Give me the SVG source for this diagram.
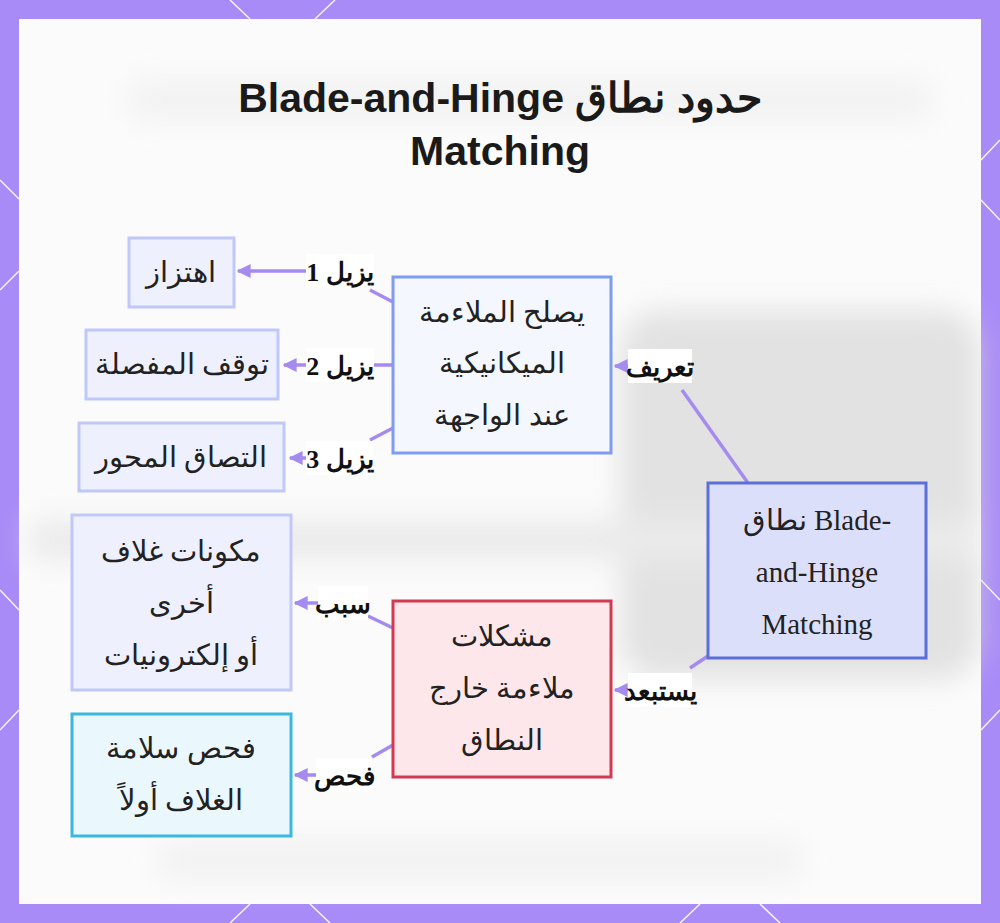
<svg xmlns="http://www.w3.org/2000/svg" width="1000" height="923" viewBox="0 0 1000 923">
<style>
.n{font-family:"Liberation Serif","DejaVu Serif",serif;font-size:29px;fill:#222;text-anchor:middle}
.e{font-family:"Liberation Serif","DejaVu Serif",serif;font-size:26px;font-weight:bold;fill:#111;text-anchor:middle}
.c{fill:none;stroke:#a58af0;stroke-width:3.5}
.lb{fill:#fff}
</style>
<defs>
<marker id="a" viewBox="0 0 10 10" refX="9" refY="5" markerWidth="4" markerHeight="4" orient="auto"><path d="M0,0L10,5L0,10z" fill="#a58af0"/></marker>
<filter id="b"><feGaussianBlur stdDeviation="14"/></filter>
</defs>
<rect width="1000" height="923" fill="#a98bf7"/>
<g stroke="#fff" stroke-width="1.5" opacity="0.9">
<path d="M230,0L250,19M335,0L315,19M0,180L19,199M0,290L19,271M981,160L1000,140M981,200L1000,220M0,590L19,610M0,730L19,710M981,580L1000,600M981,730L1000,710M230,923L250,904M330,923L310,904M680,923L700,904M780,923L760,904"/>
</g>
<rect x="19" y="19" width="962" height="885" fill="#fbfbfc"/>
<g filter="url(#b)" opacity="0.7">
<rect x="130" y="80" width="800" height="40" fill="#eee"/>
<rect x="620" y="310" width="360" height="370" rx="40" fill="#d8d8d8"/>
<rect x="30" y="520" width="950" height="40" fill="#e4e4e4"/>
<rect x="160" y="840" width="640" height="40" fill="#eee"/>
</g>
<text x="500" y="112" direction="rtl" font-family="'Liberation Sans',Arial,sans-serif" font-size="41" font-weight="bold" text-anchor="middle" fill="#1a1a1a">حدود نطاق Blade-and-Hinge</text>
<text x="500" y="165" font-family="'Liberation Sans',Arial,sans-serif" font-size="41" font-weight="bold" text-anchor="middle" fill="#1a1a1a">Matching</text>
<g id="connectors">
<path class="c" d="M393,302L370,290M306,271L238,271" marker-end="url(#a)"/>
<path class="c" d="M393,365L284,365" marker-end="url(#a)"/>
<path class="c" d="M393,428L370,440M306,458L290,458" marker-end="url(#a)"/>
<path class="c" d="M748,483L682,390M628,366L615,366" marker-end="url(#a)"/>
<path class="c" d="M708,656L690,668M628,690L615,690" marker-end="url(#a)"/>
<path class="c" d="M393,628L368,616M318,603L295,603" marker-end="url(#a)"/>
<path class="c" d="M393,745L372,757M318,775L295,775" marker-end="url(#a)"/>
<rect class="lb" x="306" y="254" width="68" height="34"/><text class="e" x="340" y="281">يزيل 1</text>
<rect class="lb" x="306" y="348" width="68" height="34"/><text class="e" x="340" y="375">يزيل 2</text>
<rect class="lb" x="306" y="441" width="68" height="34"/><text class="e" x="340" y="468">يزيل 3</text>
<rect class="lb" x="628" y="349" width="64" height="34"/><text class="e" x="660" y="376">تعريف</text>
<rect class="lb" x="628" y="673" width="64" height="34"/><text class="e" x="660" y="700">يستبعد</text>
<rect class="lb" x="318" y="586" width="50" height="34"/><text class="e" x="343" y="613">سبب</text>
<rect class="lb" x="316" y="758" width="56" height="34"/><text class="e" x="344" y="785">فحص</text>
</g>
<g id="n1"><rect x="129" y="238" width="105" height="69" fill="#eef0fd" stroke="#c0c8f8" stroke-width="3"/><text class="n" x="181" y="282">اهتزاز</text></g>
<g id="n2"><rect x="86" y="330" width="192" height="69" fill="#eef0fd" stroke="#c0c8f8" stroke-width="3"/><text class="n" x="182" y="374">توقف المفصلة</text></g>
<g id="n3"><rect x="79" y="423" width="205" height="68" fill="#eef0fd" stroke="#c0c8f8" stroke-width="3"/><text class="n" x="181" y="467">التصاق المحور</text></g>
<g id="n4"><rect x="393" y="277" width="218" height="176" fill="#f5f7fe" stroke="#7f9cf0" stroke-width="3"/><text class="n" x="502" y="322">يصلح الملاءمة</text><text class="n" x="502" y="373">الميكانيكية</text><text class="n" x="502" y="425">عند الواجهة</text></g>
<g id="n5"><rect x="708" y="483" width="218" height="175" fill="#dcdffa" stroke="#5c6ed8" stroke-width="3"/><text class="n" x="817" y="530">نطاق Blade-</text><text class="n" x="817" y="582">and-Hinge</text><text class="n" x="817" y="634">Matching</text></g>
<g id="n6"><rect x="72" y="515" width="219" height="175" fill="#eef0fd" stroke="#c0c8f8" stroke-width="3"/><text class="n" x="181" y="561">مكونات غلاف</text><text class="n" x="181" y="613">أخرى</text><text class="n" x="181" y="665">أو إلكترونيات</text></g>
<g id="n7"><rect x="393" y="601" width="218" height="176" fill="#fde7ea" stroke="#d13a4f" stroke-width="3"/><text class="n" x="502" y="646">مشكلات</text><text class="n" x="502" y="698">ملاءمة خارج</text><text class="n" x="502" y="750">النطاق</text></g>
<g id="n8"><rect x="72" y="714" width="219" height="122" fill="#eaf7fd" stroke="#3cb8e0" stroke-width="3"/><text class="n" x="181" y="758">فحص سلامة</text><text class="n" x="181" y="810">الغلاف أولاً</text></g>
</svg>
